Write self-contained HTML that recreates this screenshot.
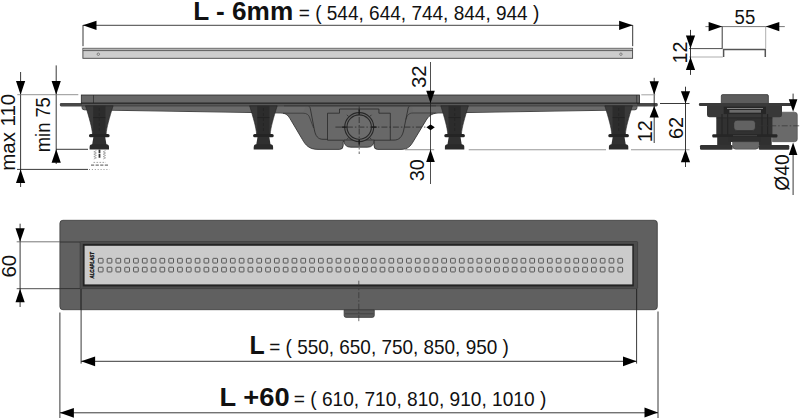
<!DOCTYPE html>
<html lang="en"><head><meta charset="utf-8"><title>Drain drawing</title>
<style>
html,body{margin:0;padding:0;background:#fff;}
body{width:800px;height:418px;overflow:hidden;}
svg{display:block;}
svg text{font-family:"Liberation Sans",sans-serif;fill:#111;}
</style></head><body>
<svg width="800" height="418" viewBox="0 0 800 418">
<rect width="800" height="418" fill="#fff"/>
<text x="193.20" y="20.20" font-size="25.20" font-weight="700" textLength="100.00" lengthAdjust="spacingAndGlyphs" >L - 6mm</text>
<text x="298.80" y="20.20" font-size="20.00" textLength="240.50" lengthAdjust="spacingAndGlyphs" >= ( 544, 644, 744, 844, 944 )</text>
<line x1="83.00" y1="25.30" x2="632.60" y2="25.30" stroke="#111" stroke-width="0.80" />
<polygon points="82.90,25.30 96.50,20.70 96.50,29.90" fill="#000"/>
<polygon points="632.70,25.30 619.10,20.70 619.10,29.90" fill="#000"/>
<line x1="83.00" y1="25.00" x2="83.00" y2="46.20" stroke="#222" stroke-width="0.90" />
<line x1="632.70" y1="25.00" x2="632.70" y2="46.20" stroke="#222" stroke-width="0.90" />
<rect x="82.9" y="48.3" width="549.7" height="10" fill="#cdcdcd" stroke="#444" stroke-width="0.9"/>
<rect x="83.3" y="48.7" width="548.9" height="1.7" fill="#b4b4b4"/>
<line x1="83.00" y1="50.60" x2="632.60" y2="50.60" stroke="#444" stroke-width="0.80" />
<circle cx="98.3" cy="54.2" r="1.2" fill="#ddd" stroke="#444" stroke-width="0.6"/>
<circle cx="620.9" cy="54.2" r="1.2" fill="#ddd" stroke="#444" stroke-width="0.6"/>
<text x="734.60" y="24.10" font-size="19.60" textLength="20.60" lengthAdjust="spacingAndGlyphs" >55</text>
<line x1="705.40" y1="26.60" x2="784.80" y2="26.60" stroke="#555" stroke-width="0.80" />
<polygon points="722.20,26.60 708.60,22.00 708.60,31.20" fill="#000"/>
<polygon points="765.70,26.60 779.30,22.00 779.30,31.20" fill="#000"/>
<line x1="722.20" y1="26.60" x2="722.20" y2="48.60" stroke="#222" stroke-width="0.90" />
<line x1="765.70" y1="26.60" x2="765.70" y2="48.60" stroke="#999" stroke-width="0.80" />
<polyline points="723.6,57 723.6,49.5 765.3,49.5 765.3,57" fill="none" stroke="#555" stroke-width="1.5"/>
<line x1="689.00" y1="48.60" x2="722.50" y2="48.60" stroke="#222" stroke-width="0.80" />
<line x1="689.00" y1="57.00" x2="722.80" y2="57.00" stroke="#999" stroke-width="0.80" />
<line x1="690.50" y1="29.90" x2="690.50" y2="74.90" stroke="#222" stroke-width="0.90" />
<polygon points="690.50,48.60 685.90,35.60 695.10,35.60" fill="#000"/>
<polygon points="690.50,57.00 685.90,70.00 695.10,70.00" fill="#000"/>
<text x="687.10" y="63.40" font-size="20.30" textLength="22.00" lengthAdjust="spacingAndGlyphs" transform="rotate(-90 687.10 63.40)" >12</text>
<line x1="20.60" y1="72.00" x2="20.60" y2="187.00" stroke="#222" stroke-width="0.90" />
<polygon points="20.60,94.70 16.00,81.10 25.20,81.10" fill="#000"/>
<polygon points="20.60,169.40 16.00,183.00 25.20,183.00" fill="#000"/>
<line x1="56.20" y1="65.40" x2="56.20" y2="164.00" stroke="#222" stroke-width="0.90" />
<polygon points="56.20,94.70 51.60,81.10 60.80,81.10" fill="#000"/>
<polygon points="56.20,149.20 51.60,162.80 60.80,162.80" fill="#000"/>
<line x1="17.30" y1="94.70" x2="78.30" y2="94.70" stroke="#777" stroke-width="0.80" />
<line x1="56.00" y1="149.30" x2="88.00" y2="149.30" stroke="#222" stroke-width="0.90" />
<line x1="17.00" y1="169.40" x2="88.00" y2="169.40" stroke="#222" stroke-width="0.90" />
<line x1="89.00" y1="169.50" x2="109.50" y2="169.50" stroke="#777" stroke-width="0.80" stroke-dasharray="1 1.9"/>
<text x="15.00" y="170.80" font-size="19.60" textLength="77.00" lengthAdjust="spacingAndGlyphs" transform="rotate(-90 15.00 170.80)" >max 110</text>
<text x="49.90" y="152.20" font-size="19.60" textLength="55.00" lengthAdjust="spacingAndGlyphs" transform="rotate(-90 49.90 152.20)" >min 75</text>
<path d="M82,105 L82,107.5 Q82,109.7 84.2,109.8 L281,113 C286,113.2 288,115.4 290,118.6 L302.4,139.5 C305.5,145 309,149.4 318,149.4 L339.5,149.4 Q343.2,149.4 343.2,145.5 L343.2,141.5 L374,141.5 L374,145.5 Q374,149.4 377.5,149.4 L401,149.4 C408,149.4 410.5,146 412.9,142.1 L426,120.4 C428.5,116.5 431,113.4 438,113 L635,109.8 Q637,109.7 637,107.5 L637,105 Z" fill="#686868" stroke="#282828" stroke-width="0.8"/>
<path d="M82.5,105.5 L82.5,107.5 Q82.5,109.2 84.2,109.3 L281,112.5 L290,112.8 L303,112.8 L306,105.5 Z" fill="#6b6b6b"/>
<path d="M636.5,105.5 L636.5,107.5 Q636.5,109.2 635,109.3 L438,112.5 L413,112.5 L412,105.5 Z" fill="#6b6b6b"/>
<path d="M307,105.3 C309.5,105.8 310,107 310.3,108.5 L314.4,130 C315.5,136 318,139.3 323,139.3 L327.4,139.3" fill="none" stroke="#282828" stroke-width="0.8"/>
<path d="M283,113.2 L303,113.2 C307,113.2 309,115 309.8,118 L313.6,128" fill="none" stroke="#282828" stroke-width="0.6"/>
<path d="M411.6,105.4 C409,105.6 408.6,106.5 408.2,108 L403.5,131 C402,137 399,140.1 394,140.1 L390.3,140.1" fill="none" stroke="#282828" stroke-width="0.8"/>
<path d="M405.9,119.5 C407,115.5 408.5,113 413,113 L436,113" fill="none" stroke="#282828" stroke-width="0.6"/>
<path d="M327.5,140.2 L327.5,113.2 L339.5,113.2 L339.5,109 L378.9,109 L378.9,113.2 L390.3,113.2 L390.3,140.2" fill="none" stroke="#282828" stroke-width="0.8"/>
<path d="M327.5,140.2 L343.5,140.2 M374,140.2 L390.3,140.2" fill="none" stroke="#282828" stroke-width="0.8"/>
<path d="M343.8,140 Q344,147.2 350.8,147.2 L367.6,147.2 Q373.8,147.2 374.2,140 Z" fill="#686868" stroke="#282828" stroke-width="0.8"/>
<circle cx="359.2" cy="127.1" r="14.5" fill="#686868" stroke="#282828" stroke-width="1.1"/>
<circle cx="359.2" cy="127.1" r="12.2" fill="#6c6c6c" stroke="#282828" stroke-width="1.1"/>
<line x1="335.40" y1="127.10" x2="425.50" y2="127.10" stroke="#222" stroke-width="0.70" stroke-dasharray="6 2 1.5 2"/>
<line x1="359.20" y1="105.50" x2="359.20" y2="154.00" stroke="#222" stroke-width="0.70" stroke-dasharray="6 2 1.5 2"/>
<line x1="359.20" y1="114.60" x2="359.20" y2="109.60" stroke="#1a1a1a" stroke-width="1.30" />
<line x1="359.20" y1="139.60" x2="359.20" y2="144.60" stroke="#1a1a1a" stroke-width="1.30" />
<line x1="346.70" y1="127.10" x2="341.70" y2="127.10" stroke="#1a1a1a" stroke-width="1.30" />
<line x1="371.70" y1="127.10" x2="376.70" y2="127.10" stroke="#1a1a1a" stroke-width="1.30" />
<line x1="348.60" y1="116.50" x2="346.90" y2="114.80" stroke="#2a2a2a" stroke-width="0.80" />
<line x1="369.80" y1="116.50" x2="371.50" y2="114.80" stroke="#2a2a2a" stroke-width="0.80" />
<line x1="348.60" y1="137.70" x2="346.90" y2="139.40" stroke="#2a2a2a" stroke-width="0.80" />
<line x1="369.80" y1="137.70" x2="371.50" y2="139.40" stroke="#2a2a2a" stroke-width="0.80" />
<rect x="59.8" y="103.1" width="598" height="3.3" rx="1.4" fill="#484848"/>
<rect x="81.3" y="95" width="558.3" height="8.2" fill="#676767" stroke="#282828" stroke-width="0.8"/>
<line x1="93.50" y1="95.00" x2="93.50" y2="103.00" stroke="#282828" stroke-width="0.70" />
<line x1="636.70" y1="95.00" x2="636.70" y2="103.00" stroke="#282828" stroke-width="0.70" />
<line x1="81.00" y1="103.20" x2="640.00" y2="103.20" stroke="#222" stroke-width="1.00" />
<rect x="82" y="103.8" width="555" height="1.4" fill="#585858"/>
<line x1="284.00" y1="105.80" x2="436.00" y2="105.80" stroke="#383838" stroke-width="0.80" />
<path d="M85.5,105.8 C89.3,118 92.1,128 92.5,134 L106.1,134 C106.5,128 109.3,118 113.1,105.8 Z" fill="#3a3a3a" stroke="#242424" stroke-width="0.6"/>
<rect x="93.2" y="105.8" width="12.2" height="28.2" fill="#2c2c2c"/>
<line x1="93.20" y1="117.60" x2="105.40" y2="117.60" stroke="#1e1e1e" stroke-width="0.70" />
<line x1="99.30" y1="108.00" x2="99.30" y2="133.00" stroke="#222" stroke-width="0.60" stroke-dasharray="3 2"/>
<rect x="89.0" y="134" width="20.6" height="3.3" rx="1.6" fill="#242424"/>
<path d="M93.4,137 L105.2,137 L106.5,145 L92.1,145 Z" fill="#303030"/>
<path d="M89.6,149.5 L89.6,147 Q89.6,144.3 92.3,144.3 L106.3,144.3 Q109.0,144.3 109.0,147 L109.0,149.5 Z" fill="#2a2a2a"/>
<path d="M249.6,105.8 C253.4,118 256.2,128 256.6,134 L270.2,134 C270.6,128 273.4,118 277.2,105.8 Z" fill="#3a3a3a" stroke="#242424" stroke-width="0.6"/>
<rect x="257.3" y="105.8" width="12.2" height="28.2" fill="#2c2c2c"/>
<line x1="257.30" y1="117.60" x2="269.50" y2="117.60" stroke="#1e1e1e" stroke-width="0.70" />
<line x1="263.40" y1="108.00" x2="263.40" y2="133.00" stroke="#222" stroke-width="0.60" stroke-dasharray="3 2"/>
<rect x="253.1" y="134" width="20.6" height="3.3" rx="1.6" fill="#242424"/>
<path d="M257.5,137 L269.3,137 L270.6,145 L256.2,145 Z" fill="#303030"/>
<path d="M253.7,149.5 L253.7,147 Q253.7,144.3 256.4,144.3 L270.4,144.3 Q273.1,144.3 273.1,147 L273.1,149.5 Z" fill="#2a2a2a"/>
<path d="M440.8,105.8 C444.6,118 447.4,128 447.8,134 L461.4,134 C461.8,128 464.6,118 468.4,105.8 Z" fill="#3a3a3a" stroke="#242424" stroke-width="0.6"/>
<rect x="448.5" y="105.8" width="12.2" height="28.2" fill="#2c2c2c"/>
<line x1="448.50" y1="117.60" x2="460.70" y2="117.60" stroke="#1e1e1e" stroke-width="0.70" />
<line x1="454.60" y1="108.00" x2="454.60" y2="133.00" stroke="#222" stroke-width="0.60" stroke-dasharray="3 2"/>
<rect x="444.3" y="134" width="20.6" height="3.3" rx="1.6" fill="#242424"/>
<path d="M448.7,137 L460.5,137 L461.8,145 L447.4,145 Z" fill="#303030"/>
<path d="M444.9,149.5 L444.9,147 Q444.9,144.3 447.6,144.3 L461.6,144.3 Q464.3,144.3 464.3,147 L464.3,149.5 Z" fill="#2a2a2a"/>
<path d="M604.8,105.8 C608.6,118 611.4,128 611.8,134 L625.4,134 C625.8,128 628.6,118 632.4,105.8 Z" fill="#3a3a3a" stroke="#242424" stroke-width="0.6"/>
<rect x="612.5" y="105.8" width="12.2" height="28.2" fill="#2c2c2c"/>
<line x1="612.50" y1="117.60" x2="624.70" y2="117.60" stroke="#1e1e1e" stroke-width="0.70" />
<line x1="618.60" y1="108.00" x2="618.60" y2="133.00" stroke="#222" stroke-width="0.60" stroke-dasharray="3 2"/>
<rect x="608.3" y="134" width="20.6" height="3.3" rx="1.6" fill="#242424"/>
<path d="M612.7,137 L624.5,137 L625.8,145 L611.4,145 Z" fill="#303030"/>
<path d="M608.9,149.5 L608.9,147 Q608.9,144.3 611.6,144.3 L625.6,144.3 Q628.3,144.3 628.3,147 L628.3,149.5 Z" fill="#2a2a2a"/>
<line x1="99.50" y1="149.60" x2="99.50" y2="158.60" stroke="#333" stroke-width="1.80" stroke-dasharray="3.6 0.9"/>
<polyline points="96.40,150.60 93.80,151.80 96.40,153.00 93.80,154.20 96.40,155.40 93.80,156.60 96.40,157.80 93.80,159.00" fill="none" stroke="#8a8a8a" stroke-width="0.7"/>
<polyline points="105.60,150.60 103.20,151.80 105.60,153.00 103.20,154.20 105.60,155.40 103.20,156.60 105.60,157.80 103.20,159.00" fill="none" stroke="#8a8a8a" stroke-width="0.7"/>
<line x1="93.50" y1="162.40" x2="105.80" y2="162.40" stroke="#8a8a8a" stroke-width="0.80" stroke-dasharray="1.6 1.4"/>
<line x1="91.00" y1="165.10" x2="108.20" y2="165.10" stroke="#3a3a3a" stroke-width="0.90" stroke-dasharray="3.2 1.4"/>
<line x1="405.00" y1="149.70" x2="434.20" y2="149.70" stroke="#999" stroke-width="1.10" />
<line x1="468.70" y1="149.70" x2="606.00" y2="149.70" stroke="#999" stroke-width="1.10" />
<line x1="631.00" y1="149.70" x2="689.50" y2="149.70" stroke="#999" stroke-width="1.10" />
<line x1="430.50" y1="62.00" x2="430.50" y2="184.00" stroke="#222" stroke-width="0.80" />
<polygon points="430.50,103.20 426.20,90.70 434.80,90.70" fill="#000"/>
<polygon points="430.50,149.60 426.20,162.10 434.80,162.10" fill="#000"/>
<polygon points="426.4,127.3 430.6,124.4 434.8,127.3 430.6,130.2" fill="#000"/>
<text x="426.30" y="88.00" font-size="20.30" textLength="22.60" lengthAdjust="spacingAndGlyphs" transform="rotate(-90 426.30 88.00)" >32</text>
<text x="424.40" y="181.30" font-size="20.30" textLength="22.20" lengthAdjust="spacingAndGlyphs" transform="rotate(-90 424.40 181.30)" >30</text>
<line x1="654.20" y1="77.80" x2="654.20" y2="143.00" stroke="#222" stroke-width="0.90" />
<polygon points="654.20,94.80 649.60,81.20 658.80,81.20" fill="#000"/>
<polygon points="654.20,106.00 649.60,117.50 658.80,117.50" fill="#000"/>
<line x1="641.30" y1="94.80" x2="655.30" y2="94.80" stroke="#8c8c8c" stroke-width="0.80" />
<text x="652.10" y="142.20" font-size="20.30" textLength="22.00" lengthAdjust="spacingAndGlyphs" transform="rotate(-90 652.10 142.20)" >12</text>
<line x1="685.50" y1="86.70" x2="685.50" y2="167.00" stroke="#222" stroke-width="0.90" />
<polygon points="685.50,103.50 680.90,91.20 690.10,91.20" fill="#000"/>
<polygon points="685.50,149.50 680.90,162.20 690.10,162.20" fill="#000"/>
<line x1="660.00" y1="103.50" x2="689.50" y2="103.50" stroke="#222" stroke-width="0.90" />
<text x="682.70" y="139.00" font-size="20.30" textLength="22.20" lengthAdjust="spacingAndGlyphs" transform="rotate(-90 682.70 139.00)" >62</text>
<path d="M772.5,112.2 L794.6,112.2 Q797.3,112.2 797.3,115 L797.3,139 Q797.3,141.7 794.6,141.7 L772.5,141.7 Z" fill="#6a6a6a" stroke="#4a4a4a" stroke-width="0.6"/>
<path d="M721.3,103.5 L721.3,96 Q721.3,94.6 722.7,94.6 L767,94.6 Q768.4,94.6 768.4,96 L768.4,103.5 Z" fill="#5c5c5c" stroke="#2e2e2e" stroke-width="0.7"/>
<path d="M707,105.5 L782,105.5 L782,115 Q782,117.3 779.5,117.3 L709.5,117.3 Q707,117.3 707,115 Z" fill="#383838"/>
<rect x="716.3" y="117" width="56.2" height="20" fill="#313131"/>
<rect x="698.9" y="103.1" width="93.1" height="2.9" rx="1.2" fill="#3a3a3a"/>
<rect x="723.7" y="106.7" width="42.3" height="7.4" fill="#262626"/>
<rect x="727" y="108" width="36" height="0.9" fill="#8c8c8c"/>
<rect x="729.4" y="110" width="31.6" height="2.7" fill="#6a6a6a"/>
<line x1="722.00" y1="114.00" x2="722.00" y2="137.00" stroke="#242424" stroke-width="1.10" />
<line x1="727.70" y1="114.00" x2="727.70" y2="137.00" stroke="#242424" stroke-width="1.10" />
<line x1="762.00" y1="114.00" x2="762.00" y2="137.00" stroke="#242424" stroke-width="1.10" />
<line x1="767.60" y1="114.00" x2="767.60" y2="137.00" stroke="#242424" stroke-width="1.10" />
<line x1="716.50" y1="118.00" x2="772.30" y2="118.00" stroke="#2a2a2a" stroke-width="0.70" />
<rect x="733.8" y="120.2" width="21.6" height="10.4" rx="3.4" fill="#626262" stroke="#222" stroke-width="0.5"/>
<rect x="712.3" y="134.3" width="65.1" height="3.1" rx="1" fill="#262626"/>
<rect x="733" y="135.2" width="24" height="1" fill="#444"/>
<rect x="717.2" y="137" width="13.8" height="8.3" fill="#303030"/>
<rect x="758.7" y="137" width="13" height="8.3" fill="#303030"/>
<rect x="728" y="137" width="33" height="5" fill="#2e2e2e"/>
<path d="M732.6,141.7 L758.7,141.7 L758.7,146 Q758.7,149.2 755.5,149.2 L735.8,149.2 Q732.6,149.2 732.6,146 Z" fill="#686868" stroke="#3a3a3a" stroke-width="0.5"/>
<rect x="700" y="145" width="32.6" height="4.7" rx="1.2" fill="#333"/>
<rect x="758.7" y="145" width="30.6" height="4.7" rx="1.2" fill="#333"/>
<line x1="758.70" y1="125.80" x2="800.00" y2="125.80" stroke="#333" stroke-width="0.70" stroke-dasharray="6 2 1.5 2"/>
<line x1="793.10" y1="93.60" x2="793.10" y2="100.00" stroke="#222" stroke-width="0.90" />
<line x1="793.10" y1="150.00" x2="793.10" y2="195.00" stroke="#222" stroke-width="0.90" />
<polygon points="793.10,111.80 788.80,99.30 797.40,99.30" fill="#000"/>
<polygon points="793.10,142.60 788.80,154.90 797.40,154.90" fill="#000"/>
<text x="788.70" y="190.80" font-size="20.30" textLength="36.50" lengthAdjust="spacingAndGlyphs" transform="rotate(-90 788.70 190.80)" >Ø40</text>
<rect x="59.9" y="220.3" width="597.4" height="89.4" rx="3" fill="#606060" stroke="#383838" stroke-width="0.8"/>
<line x1="60.00" y1="242.00" x2="80.00" y2="242.00" stroke="#333" stroke-width="1.00" />
<line x1="60.00" y1="288.60" x2="80.00" y2="288.60" stroke="#333" stroke-width="1.00" />
<line x1="80.70" y1="288.60" x2="80.70" y2="309.50" stroke="#444" stroke-width="0.80" />
<line x1="636.80" y1="288.60" x2="636.80" y2="309.50" stroke="#4a4a4a" stroke-width="0.70" />
<rect x="80.1" y="241.5" width="557.5" height="47.1" rx="0.8" fill="#4c4c4c" stroke="#303030" stroke-width="0.5"/>
<rect x="82.8" y="243.9" width="551" height="42.5" fill="#232323"/>
<rect x="84.6" y="245.8" width="547.7" height="38.6" fill="#cbcbcb"/>
<rect x="98.35" y="258.35" width="4.7" height="4.7" rx="0.7" fill="none" stroke="#505050" stroke-width="0.95"/>
<rect x="107.16" y="258.35" width="4.7" height="4.7" rx="0.7" fill="none" stroke="#505050" stroke-width="0.95"/>
<rect x="115.96" y="258.35" width="4.7" height="4.7" rx="0.7" fill="none" stroke="#505050" stroke-width="0.95"/>
<rect x="124.77" y="258.35" width="4.7" height="4.7" rx="0.7" fill="none" stroke="#505050" stroke-width="0.95"/>
<rect x="133.57" y="258.35" width="4.7" height="4.7" rx="0.7" fill="none" stroke="#505050" stroke-width="0.95"/>
<rect x="142.38" y="258.35" width="4.7" height="4.7" rx="0.7" fill="none" stroke="#505050" stroke-width="0.95"/>
<rect x="151.19" y="258.35" width="4.7" height="4.7" rx="0.7" fill="none" stroke="#505050" stroke-width="0.95"/>
<rect x="159.99" y="258.35" width="4.7" height="4.7" rx="0.7" fill="none" stroke="#505050" stroke-width="0.95"/>
<rect x="168.80" y="258.35" width="4.7" height="4.7" rx="0.7" fill="none" stroke="#505050" stroke-width="0.95"/>
<rect x="177.60" y="258.35" width="4.7" height="4.7" rx="0.7" fill="none" stroke="#505050" stroke-width="0.95"/>
<rect x="186.41" y="258.35" width="4.7" height="4.7" rx="0.7" fill="none" stroke="#505050" stroke-width="0.95"/>
<rect x="195.22" y="258.35" width="4.7" height="4.7" rx="0.7" fill="none" stroke="#505050" stroke-width="0.95"/>
<rect x="204.02" y="258.35" width="4.7" height="4.7" rx="0.7" fill="none" stroke="#505050" stroke-width="0.95"/>
<rect x="212.83" y="258.35" width="4.7" height="4.7" rx="0.7" fill="none" stroke="#505050" stroke-width="0.95"/>
<rect x="221.63" y="258.35" width="4.7" height="4.7" rx="0.7" fill="none" stroke="#505050" stroke-width="0.95"/>
<rect x="230.44" y="258.35" width="4.7" height="4.7" rx="0.7" fill="none" stroke="#505050" stroke-width="0.95"/>
<rect x="239.25" y="258.35" width="4.7" height="4.7" rx="0.7" fill="none" stroke="#505050" stroke-width="0.95"/>
<rect x="248.05" y="258.35" width="4.7" height="4.7" rx="0.7" fill="none" stroke="#505050" stroke-width="0.95"/>
<rect x="256.86" y="258.35" width="4.7" height="4.7" rx="0.7" fill="none" stroke="#505050" stroke-width="0.95"/>
<rect x="265.66" y="258.35" width="4.7" height="4.7" rx="0.7" fill="none" stroke="#505050" stroke-width="0.95"/>
<rect x="274.47" y="258.35" width="4.7" height="4.7" rx="0.7" fill="none" stroke="#505050" stroke-width="0.95"/>
<rect x="283.28" y="258.35" width="4.7" height="4.7" rx="0.7" fill="none" stroke="#505050" stroke-width="0.95"/>
<rect x="292.08" y="258.35" width="4.7" height="4.7" rx="0.7" fill="none" stroke="#505050" stroke-width="0.95"/>
<rect x="300.89" y="258.35" width="4.7" height="4.7" rx="0.7" fill="none" stroke="#505050" stroke-width="0.95"/>
<rect x="309.69" y="258.35" width="4.7" height="4.7" rx="0.7" fill="none" stroke="#505050" stroke-width="0.95"/>
<rect x="318.50" y="258.35" width="4.7" height="4.7" rx="0.7" fill="none" stroke="#505050" stroke-width="0.95"/>
<rect x="327.31" y="258.35" width="4.7" height="4.7" rx="0.7" fill="none" stroke="#505050" stroke-width="0.95"/>
<rect x="336.11" y="258.35" width="4.7" height="4.7" rx="0.7" fill="none" stroke="#505050" stroke-width="0.95"/>
<rect x="344.92" y="258.35" width="4.7" height="4.7" rx="0.7" fill="none" stroke="#505050" stroke-width="0.95"/>
<rect x="353.72" y="258.35" width="4.7" height="4.7" rx="0.7" fill="none" stroke="#505050" stroke-width="0.95"/>
<rect x="362.53" y="258.35" width="4.7" height="4.7" rx="0.7" fill="none" stroke="#505050" stroke-width="0.95"/>
<rect x="371.34" y="258.35" width="4.7" height="4.7" rx="0.7" fill="none" stroke="#505050" stroke-width="0.95"/>
<rect x="380.14" y="258.35" width="4.7" height="4.7" rx="0.7" fill="none" stroke="#505050" stroke-width="0.95"/>
<rect x="388.95" y="258.35" width="4.7" height="4.7" rx="0.7" fill="none" stroke="#505050" stroke-width="0.95"/>
<rect x="397.75" y="258.35" width="4.7" height="4.7" rx="0.7" fill="none" stroke="#505050" stroke-width="0.95"/>
<rect x="406.56" y="258.35" width="4.7" height="4.7" rx="0.7" fill="none" stroke="#505050" stroke-width="0.95"/>
<rect x="415.37" y="258.35" width="4.7" height="4.7" rx="0.7" fill="none" stroke="#505050" stroke-width="0.95"/>
<rect x="424.17" y="258.35" width="4.7" height="4.7" rx="0.7" fill="none" stroke="#505050" stroke-width="0.95"/>
<rect x="432.98" y="258.35" width="4.7" height="4.7" rx="0.7" fill="none" stroke="#505050" stroke-width="0.95"/>
<rect x="441.78" y="258.35" width="4.7" height="4.7" rx="0.7" fill="none" stroke="#505050" stroke-width="0.95"/>
<rect x="450.59" y="258.35" width="4.7" height="4.7" rx="0.7" fill="none" stroke="#505050" stroke-width="0.95"/>
<rect x="459.40" y="258.35" width="4.7" height="4.7" rx="0.7" fill="none" stroke="#505050" stroke-width="0.95"/>
<rect x="468.20" y="258.35" width="4.7" height="4.7" rx="0.7" fill="none" stroke="#505050" stroke-width="0.95"/>
<rect x="477.01" y="258.35" width="4.7" height="4.7" rx="0.7" fill="none" stroke="#505050" stroke-width="0.95"/>
<rect x="485.81" y="258.35" width="4.7" height="4.7" rx="0.7" fill="none" stroke="#505050" stroke-width="0.95"/>
<rect x="494.62" y="258.35" width="4.7" height="4.7" rx="0.7" fill="none" stroke="#505050" stroke-width="0.95"/>
<rect x="503.43" y="258.35" width="4.7" height="4.7" rx="0.7" fill="none" stroke="#505050" stroke-width="0.95"/>
<rect x="512.23" y="258.35" width="4.7" height="4.7" rx="0.7" fill="none" stroke="#505050" stroke-width="0.95"/>
<rect x="521.04" y="258.35" width="4.7" height="4.7" rx="0.7" fill="none" stroke="#505050" stroke-width="0.95"/>
<rect x="529.84" y="258.35" width="4.7" height="4.7" rx="0.7" fill="none" stroke="#505050" stroke-width="0.95"/>
<rect x="538.65" y="258.35" width="4.7" height="4.7" rx="0.7" fill="none" stroke="#505050" stroke-width="0.95"/>
<rect x="547.46" y="258.35" width="4.7" height="4.7" rx="0.7" fill="none" stroke="#505050" stroke-width="0.95"/>
<rect x="556.26" y="258.35" width="4.7" height="4.7" rx="0.7" fill="none" stroke="#505050" stroke-width="0.95"/>
<rect x="565.07" y="258.35" width="4.7" height="4.7" rx="0.7" fill="none" stroke="#505050" stroke-width="0.95"/>
<rect x="573.87" y="258.35" width="4.7" height="4.7" rx="0.7" fill="none" stroke="#505050" stroke-width="0.95"/>
<rect x="582.68" y="258.35" width="4.7" height="4.7" rx="0.7" fill="none" stroke="#505050" stroke-width="0.95"/>
<rect x="591.49" y="258.35" width="4.7" height="4.7" rx="0.7" fill="none" stroke="#505050" stroke-width="0.95"/>
<rect x="600.29" y="258.35" width="4.7" height="4.7" rx="0.7" fill="none" stroke="#505050" stroke-width="0.95"/>
<rect x="609.10" y="258.35" width="4.7" height="4.7" rx="0.7" fill="none" stroke="#505050" stroke-width="0.95"/>
<rect x="617.90" y="258.35" width="4.7" height="4.7" rx="0.7" fill="none" stroke="#505050" stroke-width="0.95"/>
<rect x="98.35" y="267.25" width="4.7" height="4.7" rx="0.7" fill="none" stroke="#505050" stroke-width="0.95"/>
<rect x="107.16" y="267.25" width="4.7" height="4.7" rx="0.7" fill="none" stroke="#505050" stroke-width="0.95"/>
<rect x="115.96" y="267.25" width="4.7" height="4.7" rx="0.7" fill="none" stroke="#505050" stroke-width="0.95"/>
<rect x="124.77" y="267.25" width="4.7" height="4.7" rx="0.7" fill="none" stroke="#505050" stroke-width="0.95"/>
<rect x="133.57" y="267.25" width="4.7" height="4.7" rx="0.7" fill="none" stroke="#505050" stroke-width="0.95"/>
<rect x="142.38" y="267.25" width="4.7" height="4.7" rx="0.7" fill="none" stroke="#505050" stroke-width="0.95"/>
<rect x="151.19" y="267.25" width="4.7" height="4.7" rx="0.7" fill="none" stroke="#505050" stroke-width="0.95"/>
<rect x="159.99" y="267.25" width="4.7" height="4.7" rx="0.7" fill="none" stroke="#505050" stroke-width="0.95"/>
<rect x="168.80" y="267.25" width="4.7" height="4.7" rx="0.7" fill="none" stroke="#505050" stroke-width="0.95"/>
<rect x="177.60" y="267.25" width="4.7" height="4.7" rx="0.7" fill="none" stroke="#505050" stroke-width="0.95"/>
<rect x="186.41" y="267.25" width="4.7" height="4.7" rx="0.7" fill="none" stroke="#505050" stroke-width="0.95"/>
<rect x="195.22" y="267.25" width="4.7" height="4.7" rx="0.7" fill="none" stroke="#505050" stroke-width="0.95"/>
<rect x="204.02" y="267.25" width="4.7" height="4.7" rx="0.7" fill="none" stroke="#505050" stroke-width="0.95"/>
<rect x="212.83" y="267.25" width="4.7" height="4.7" rx="0.7" fill="none" stroke="#505050" stroke-width="0.95"/>
<rect x="221.63" y="267.25" width="4.7" height="4.7" rx="0.7" fill="none" stroke="#505050" stroke-width="0.95"/>
<rect x="230.44" y="267.25" width="4.7" height="4.7" rx="0.7" fill="none" stroke="#505050" stroke-width="0.95"/>
<rect x="239.25" y="267.25" width="4.7" height="4.7" rx="0.7" fill="none" stroke="#505050" stroke-width="0.95"/>
<rect x="248.05" y="267.25" width="4.7" height="4.7" rx="0.7" fill="none" stroke="#505050" stroke-width="0.95"/>
<rect x="256.86" y="267.25" width="4.7" height="4.7" rx="0.7" fill="none" stroke="#505050" stroke-width="0.95"/>
<rect x="265.66" y="267.25" width="4.7" height="4.7" rx="0.7" fill="none" stroke="#505050" stroke-width="0.95"/>
<rect x="274.47" y="267.25" width="4.7" height="4.7" rx="0.7" fill="none" stroke="#505050" stroke-width="0.95"/>
<rect x="283.28" y="267.25" width="4.7" height="4.7" rx="0.7" fill="none" stroke="#505050" stroke-width="0.95"/>
<rect x="292.08" y="267.25" width="4.7" height="4.7" rx="0.7" fill="none" stroke="#505050" stroke-width="0.95"/>
<rect x="300.89" y="267.25" width="4.7" height="4.7" rx="0.7" fill="none" stroke="#505050" stroke-width="0.95"/>
<rect x="309.69" y="267.25" width="4.7" height="4.7" rx="0.7" fill="none" stroke="#505050" stroke-width="0.95"/>
<rect x="318.50" y="267.25" width="4.7" height="4.7" rx="0.7" fill="none" stroke="#505050" stroke-width="0.95"/>
<rect x="327.31" y="267.25" width="4.7" height="4.7" rx="0.7" fill="none" stroke="#505050" stroke-width="0.95"/>
<rect x="336.11" y="267.25" width="4.7" height="4.7" rx="0.7" fill="none" stroke="#505050" stroke-width="0.95"/>
<rect x="344.92" y="267.25" width="4.7" height="4.7" rx="0.7" fill="none" stroke="#505050" stroke-width="0.95"/>
<rect x="353.72" y="267.25" width="4.7" height="4.7" rx="0.7" fill="none" stroke="#505050" stroke-width="0.95"/>
<rect x="362.53" y="267.25" width="4.7" height="4.7" rx="0.7" fill="none" stroke="#505050" stroke-width="0.95"/>
<rect x="371.34" y="267.25" width="4.7" height="4.7" rx="0.7" fill="none" stroke="#505050" stroke-width="0.95"/>
<rect x="380.14" y="267.25" width="4.7" height="4.7" rx="0.7" fill="none" stroke="#505050" stroke-width="0.95"/>
<rect x="388.95" y="267.25" width="4.7" height="4.7" rx="0.7" fill="none" stroke="#505050" stroke-width="0.95"/>
<rect x="397.75" y="267.25" width="4.7" height="4.7" rx="0.7" fill="none" stroke="#505050" stroke-width="0.95"/>
<rect x="406.56" y="267.25" width="4.7" height="4.7" rx="0.7" fill="none" stroke="#505050" stroke-width="0.95"/>
<rect x="415.37" y="267.25" width="4.7" height="4.7" rx="0.7" fill="none" stroke="#505050" stroke-width="0.95"/>
<rect x="424.17" y="267.25" width="4.7" height="4.7" rx="0.7" fill="none" stroke="#505050" stroke-width="0.95"/>
<rect x="432.98" y="267.25" width="4.7" height="4.7" rx="0.7" fill="none" stroke="#505050" stroke-width="0.95"/>
<rect x="441.78" y="267.25" width="4.7" height="4.7" rx="0.7" fill="none" stroke="#505050" stroke-width="0.95"/>
<rect x="450.59" y="267.25" width="4.7" height="4.7" rx="0.7" fill="none" stroke="#505050" stroke-width="0.95"/>
<rect x="459.40" y="267.25" width="4.7" height="4.7" rx="0.7" fill="none" stroke="#505050" stroke-width="0.95"/>
<rect x="468.20" y="267.25" width="4.7" height="4.7" rx="0.7" fill="none" stroke="#505050" stroke-width="0.95"/>
<rect x="477.01" y="267.25" width="4.7" height="4.7" rx="0.7" fill="none" stroke="#505050" stroke-width="0.95"/>
<rect x="485.81" y="267.25" width="4.7" height="4.7" rx="0.7" fill="none" stroke="#505050" stroke-width="0.95"/>
<rect x="494.62" y="267.25" width="4.7" height="4.7" rx="0.7" fill="none" stroke="#505050" stroke-width="0.95"/>
<rect x="503.43" y="267.25" width="4.7" height="4.7" rx="0.7" fill="none" stroke="#505050" stroke-width="0.95"/>
<rect x="512.23" y="267.25" width="4.7" height="4.7" rx="0.7" fill="none" stroke="#505050" stroke-width="0.95"/>
<rect x="521.04" y="267.25" width="4.7" height="4.7" rx="0.7" fill="none" stroke="#505050" stroke-width="0.95"/>
<rect x="529.84" y="267.25" width="4.7" height="4.7" rx="0.7" fill="none" stroke="#505050" stroke-width="0.95"/>
<rect x="538.65" y="267.25" width="4.7" height="4.7" rx="0.7" fill="none" stroke="#505050" stroke-width="0.95"/>
<rect x="547.46" y="267.25" width="4.7" height="4.7" rx="0.7" fill="none" stroke="#505050" stroke-width="0.95"/>
<rect x="556.26" y="267.25" width="4.7" height="4.7" rx="0.7" fill="none" stroke="#505050" stroke-width="0.95"/>
<rect x="565.07" y="267.25" width="4.7" height="4.7" rx="0.7" fill="none" stroke="#505050" stroke-width="0.95"/>
<rect x="573.87" y="267.25" width="4.7" height="4.7" rx="0.7" fill="none" stroke="#505050" stroke-width="0.95"/>
<rect x="582.68" y="267.25" width="4.7" height="4.7" rx="0.7" fill="none" stroke="#505050" stroke-width="0.95"/>
<rect x="591.49" y="267.25" width="4.7" height="4.7" rx="0.7" fill="none" stroke="#505050" stroke-width="0.95"/>
<rect x="600.29" y="267.25" width="4.7" height="4.7" rx="0.7" fill="none" stroke="#505050" stroke-width="0.95"/>
<rect x="609.10" y="267.25" width="4.7" height="4.7" rx="0.7" fill="none" stroke="#505050" stroke-width="0.95"/>
<rect x="617.90" y="267.25" width="4.7" height="4.7" rx="0.7" fill="none" stroke="#505050" stroke-width="0.95"/>
<text x="93.6" y="278.4" font-size="5.8" font-weight="700" font-style="italic" stroke="#111" stroke-width="0.35" textLength="26.2" lengthAdjust="spacingAndGlyphs" transform="rotate(-90 93.6 278.4)">ALCAPLAST</text>
<path d="M344.1,309.9 L374.3,309.9 L374.3,315.4 Q374.3,317.4 372.3,317.4 L346.1,317.4 Q344.1,317.4 344.1,315.4 Z" fill="#5a5a5a" stroke="#333" stroke-width="0.7"/>
<line x1="345.00" y1="313.80" x2="373.50" y2="313.80" stroke="#333" stroke-width="0.60" />
<line x1="358.80" y1="280.70" x2="358.80" y2="321.70" stroke="#333" stroke-width="0.70" stroke-dasharray="6 2 1.5 2"/>
<line x1="20.10" y1="223.70" x2="20.10" y2="307.00" stroke="#222" stroke-width="0.90" />
<polygon points="20.10,241.80 15.50,228.20 24.70,228.20" fill="#000"/>
<polygon points="20.10,288.70 15.50,302.30 24.70,302.30" fill="#000"/>
<line x1="16.70" y1="241.80" x2="60.00" y2="241.80" stroke="#555" stroke-width="0.80" />
<line x1="16.70" y1="288.70" x2="60.00" y2="288.70" stroke="#222" stroke-width="0.80" />
<text x="15.70" y="277.60" font-size="20.30" textLength="22.80" lengthAdjust="spacingAndGlyphs" transform="rotate(-90 15.70 277.60)" >60</text>
<line x1="81.10" y1="289.00" x2="81.10" y2="363.60" stroke="#222" stroke-width="0.90" />
<line x1="636.60" y1="289.00" x2="636.60" y2="363.60" stroke="#222" stroke-width="0.90" />
<line x1="81.10" y1="361.30" x2="636.60" y2="361.30" stroke="#222" stroke-width="0.90" />
<polygon points="81.10,361.30 95.10,356.40 95.10,366.20" fill="#000"/>
<polygon points="636.60,361.30 623.00,356.40 623.00,366.20" fill="#000"/>
<line x1="59.90" y1="312.50" x2="59.90" y2="418.00" stroke="#222" stroke-width="0.90" />
<line x1="658.00" y1="311.50" x2="658.00" y2="418.00" stroke="#222" stroke-width="0.90" />
<line x1="59.90" y1="412.80" x2="658.00" y2="412.80" stroke="#222" stroke-width="0.90" />
<polygon points="59.90,412.80 73.90,407.90 73.90,417.70" fill="#000"/>
<polygon points="658.00,412.50 644.50,407.60 644.50,417.40" fill="#000"/>
<text x="249.60" y="353.80" font-size="25.30" font-weight="700" textLength="15.20" lengthAdjust="spacingAndGlyphs" >L</text>
<text x="269.30" y="353.80" font-size="19.80" textLength="239.50" lengthAdjust="spacingAndGlyphs" >= ( 550, 650, 750, 850, 950 )</text>
<text x="219.60" y="406.30" font-size="25.30" font-weight="700" textLength="70.00" lengthAdjust="spacingAndGlyphs" >L +60</text>
<text x="293.80" y="406.30" font-size="19.80" textLength="252.50" lengthAdjust="spacingAndGlyphs" >= ( 610, 710, 810, 910, 1010 )</text>
</svg>
</body></html>
